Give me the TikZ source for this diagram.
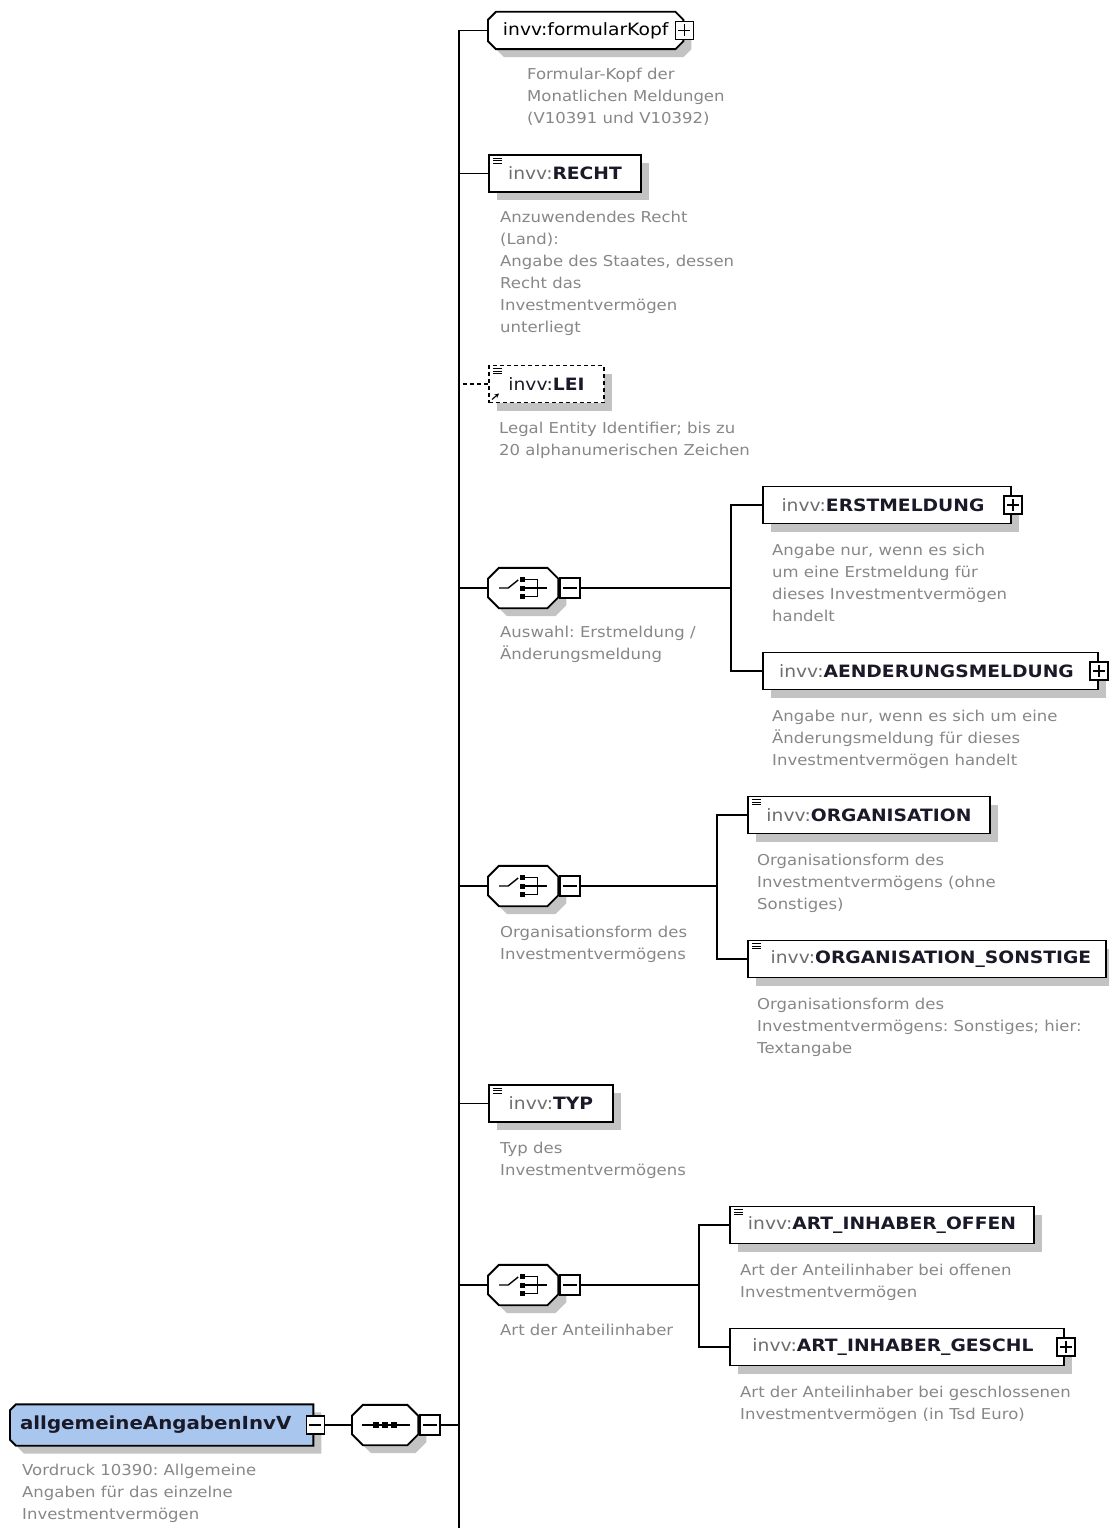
\documentclass[tikz,border=0pt]{standalone}
\usepackage{fontspec}
\setmainfont[FakeStretch=1.1]{DejaVu Sans}
\frenchspacing
\usetikzlibrary{shadows,arrows.meta,backgrounds}
\definecolor{descgray}{RGB}{135,135,135}
\definecolor{pfxgray}{RGB}{110,110,110}
\definecolor{namedark}{RGB}{25,25,40}
\definecolor{rootblue}{RGB}{168,198,238}
\definecolor{shadowgray}{RGB}{195,195,195}
\newcommand{\el}[1]{{\color{pfxgray}invv:}{\bfseries\color{namedark}#1}}
\newcommand{\listicon}[1]{\foreach \dy in {4,6.5,9} \draw[line width=1.1pt] ([xshift=5pt,yshift=-\dy pt]#1.north west) -- ++(9,0);}
% octagon path: #1 node, #2 left chamfer, #3 right chamfer, #4 dx, #5 dy
\newcommand{\octpath}[5]{([xshift=#2pt+#4pt,yshift=#5pt]#1.north west) -- ([xshift=-#3pt+#4pt,yshift=#5pt]#1.north east) -- ([xshift=#4pt,yshift=-#3pt+#5pt]#1.north east) -- ([xshift=#4pt,yshift=#3pt+#5pt]#1.south east) -- ([xshift=-#3pt+#4pt,yshift=#5pt]#1.south east) -- ([xshift=#2pt+#4pt,yshift=#5pt]#1.south west) -- ([xshift=#4pt,yshift=#2pt+#5pt]#1.south west) -- ([xshift=#4pt,yshift=-#2pt+#5pt]#1.north west) -- cycle}
\newcommand{\octa}[4]{% node, left chamfer, right chamfer, fill colour
  \begin{scope}[on background layer]
    \fill[shadowgray] \octpath{#1}{#2}{#3}{8}{-8};
    \filldraw[fill=#4, draw=black, line width=1.9pt] \octpath{#1}{#2}{#3}{0}{0};
  \end{scope}}
\tikzset{
  conn/.style={line width=1.9pt, draw=black},
  shad/.style={general shadow={fill=shadowgray, shadow xshift=8pt, shadow yshift=-8pt}},
  elbox/.style={draw, line width=1.9pt, fill=white, shad, anchor=west, minimum height=37pt, inner sep=0pt, font=\fontsize{17}{20}\selectfont},
  plainbox/.style={anchor=west, minimum height=37pt, inner sep=0pt, font=\fontsize{17}{20}\selectfont},
  compbox/.style={anchor=west, minimum width=70pt, minimum height=40pt, inner sep=0pt},
  pmbox/.style={draw, line width=1.3pt, fill=white, minimum size=18pt, inner sep=0pt},
  minusbox/.style={pmbox, path picture={\draw[line width=1.3pt] ([xshift=3pt]path picture bounding box.west) -- ([xshift=-3pt]path picture bounding box.east);}},
  plusbox/.style={pmbox, path picture={\draw[line width=1.3pt] ([xshift=3pt]path picture bounding box.west) -- ([xshift=-3pt]path picture bounding box.east);
     \draw[line width=1.3pt] ([yshift=-3pt]path picture bounding box.north) -- ([yshift=3pt]path picture bounding box.south);}},
  desc/.style={anchor=base west, align=left, inner sep=0pt, text=descgray, font=\fontsize{15}{22}\selectfont},
  choiceicon/.pic={
    \draw[line width=1.4pt] (-24,0) -- (-15,0) -- (-5,-8);
    \fill (-3,-11) rectangle (2,-6);
    \fill (-3,-2.5) rectangle (2,2.5);
    \fill (-3,6) rectangle (2,11);
    \draw[line width=1.4pt] (2,-8.5) -- (14,-8.5) -- (14,8.5) -- (2,8.5);
    \draw[line width=1.4pt] (2,0) -- (24,0);
  },
  seqicon/.pic={
    \draw[line width=1.4pt] (-23,0) -- (25,0);
    \fill (-12,-3) rectangle (-6,3);
    \fill (-3,-3) rectangle (3,3);
    \fill (6,-3) rectangle (12,3);
  }
}
\begin{document}
\begin{tikzpicture}[x=1pt,y=-1pt]
\useasboundingbox (0,0) rectangle (1108,1528);

% bus coordinates
\coordinate (mbus) at (459,30.5);
\coordinate (mbusend) at (459,1528);
\coordinate (bus1) at (731,505);
\coordinate (bus2) at (717,815);
\coordinate (bus3) at (699,1225);

% formularKopf
\node[plainbox, minimum width=195pt] (fk) at (488,30.5) {invv:formularKopf};
\octa{fk}{8}{8}{white}
\node[plusbox] (fkp) at ([xshift=1pt]fk.east) {};
\node[desc] (fkd) at (527,123) {Formular-Kopf der\\Monatlichen Meldungen\\(V10391 und V10392)};

% RECHT
\node[elbox, minimum width=152pt] (recht) at (488,173.5) {\el{RECHT}};
\listicon{recht}
\node[desc] (rechtd) at (500,332) {Anzuwendendes Recht\\(Land):\\Angabe des Staates, dessen\\Recht das\\Investmentvermögen\\unterliegt};

% LEI
\node[elbox, dashed, dash pattern=on 4pt off 3pt, minimum width=115pt] (lei) at (488,384) {{\color{namedark}invv:\bfseries LEI}};
\listicon{lei}
\draw[line width=1.1pt, -{Stealth[length=4.5pt,width=4.5pt]}] ([xshift=4pt,yshift=4pt]lei.south west) -- ++(7,-6);
\node[desc] (leid) at (499,455) {Legal Entity Identifier; bis zu\\20 alphanumerischen Zeichen};

% choice 1
\node[compbox] (ch1) at (488,588) {};
\octa{ch1}{11}{11}{white}
\pic at (ch1.center) {choiceicon};
\node[minusbox, anchor=west, minimum size=20pt] (ch1m) at ([xshift=1pt]ch1.east) {};
\node[desc] (ch1d) at (500,659) {Auswahl: Erstmeldung /\\Änderungsmeldung};

\node[elbox, minimum width=248pt] (erst) at (762,505) {\el{ERSTMELDUNG}\hspace*{8pt}};
\node[plusbox] (erstp) at ([xshift=1pt]erst.east) {};
\node[desc] (erstd) at (772,621) {Angabe nur, wenn es sich\\um eine Erstmeldung für\\dieses Investmentvermögen\\handelt};

\node[elbox, minimum width=335pt] (aend) at (762,671) {\el{AENDERUNGSMELDUNG}\hspace*{8pt}};
\node[plusbox] (aendp) at (aend.east) {};
\node[desc] (aendd) at (772,765) {Angabe nur, wenn es sich um eine\\Änderungsmeldung für dieses\\Investmentvermögen handelt};

% choice 2
\node[compbox] (ch2) at (488,886) {};
\octa{ch2}{11}{11}{white}
\pic at (ch2.center) {choiceicon};
\node[minusbox, anchor=west, minimum size=20pt] (ch2m) at ([xshift=1pt]ch2.east) {};
\node[desc] (ch2d) at (500,959) {Organisationsform des\\Investmentvermögens};

\node[elbox, minimum width=242pt] (org) at (747,815) {\el{ORGANISATION}};
\listicon{org}
\node[desc] (orgd) at (757,909) {Organisationsform des\\Investmentvermögens (ohne\\Sonstiges)};

\node[elbox, minimum width=358pt] (orgs) at (747,959) {\hspace*{8pt}\el{ORGANISATION\_SONSTIGE}};
\listicon{orgs}
\node[desc] (orgsd) at (757,1053) {Organisationsform des\\Investmentvermögens: Sonstiges; hier:\\Textangabe};

% TYP
\node[elbox, minimum width=124pt] (typ) at (488,1103.5) {\el{TYP}};
\listicon{typ}
\node[desc] (typd) at (500,1175) {Typ des\\Investmentvermögens};

% choice 3
\node[compbox] (ch3) at (488,1285) {};
\octa{ch3}{11}{11}{white}
\pic at (ch3.center) {choiceicon};
\node[minusbox, anchor=west, minimum size=20pt] (ch3m) at ([xshift=1pt]ch3.east) {};
\node[desc] (ch3d) at (500,1335) {Art der Anteilinhaber};

\node[elbox, minimum width=304pt] (offen) at (729,1225) {\el{ART\_INHABER\_OFFEN}};
\listicon{offen}
\node[desc] (offend) at (740,1297) {Art der Anteilinhaber bei offenen\\Investmentvermögen};

\node[elbox, minimum width=334pt] (geschl) at (729,1347) {\el{ART\_INHABER\_GESCHL}\hspace*{8pt}};
\node[plusbox] (geschlp) at ([xshift=1pt]geschl.east) {};
\node[desc] (geschld) at (740,1419) {Art der Anteilinhaber bei geschlossenen\\Investmentvermögen (in Tsd Euro)};

% root and sequence
\node[plainbox, minimum width=303pt, minimum height=41pt, font=\fontsize{18}{20}\selectfont\bfseries\color{namedark}] (root) at (10,1425) {allgemeineAngabenInvV\hspace*{12pt}};
\octa{root}{6}{0}{rootblue}
\node[minusbox] (rootm) at ([xshift=2pt]root.east) {};
\node[desc] (rootd) at (22,1519) {Vordruck 10390: Allgemeine\\Angaben für das einzelne\\Investmentvermögen};

\node[compbox, minimum width=66pt] (seq) at (352,1425) {};
\octa{seq}{11}{11}{white}
\pic at (seq.center) {seqicon};
\node[minusbox, anchor=west, minimum size=20pt] (seqm) at ([xshift=1pt]seq.east) {};

% connectors
\draw[conn] (rootm.east) -- (seq.west);
\draw[conn] (seqm.east) -- (seqm.east -| mbus);
\draw[conn] (fk.west) -| (mbusend);
\draw[conn] (recht.west) -- (recht.west -| mbus);
\draw[conn, dashed, dash pattern=on 4pt off 3pt] (lei.west) -- (lei.west -| mbus);
\draw[conn] (ch1.west) -- (ch1.west -| mbus);
\draw[conn] (ch2.west) -- (ch2.west -| mbus);
\draw[conn] (typ.west) -- (typ.west -| mbus);
\draw[conn] (ch3.west) -- (ch3.west -| mbus);

\draw[conn] (ch1m.east) -- (ch1m.east -| bus1);
\draw[conn] (erst.west) -- (erst.west -| bus1) |- (aend.west);
\draw[conn] (ch2m.east) -- (ch2m.east -| bus2);
\draw[conn] (org.west) -- (org.west -| bus2) |- (orgs.west);
\draw[conn] (ch3m.east) -- (ch3m.east -| bus3);
\draw[conn] (offen.west) -- (offen.west -| bus3) |- (geschl.west);
\end{tikzpicture}
\end{document}
